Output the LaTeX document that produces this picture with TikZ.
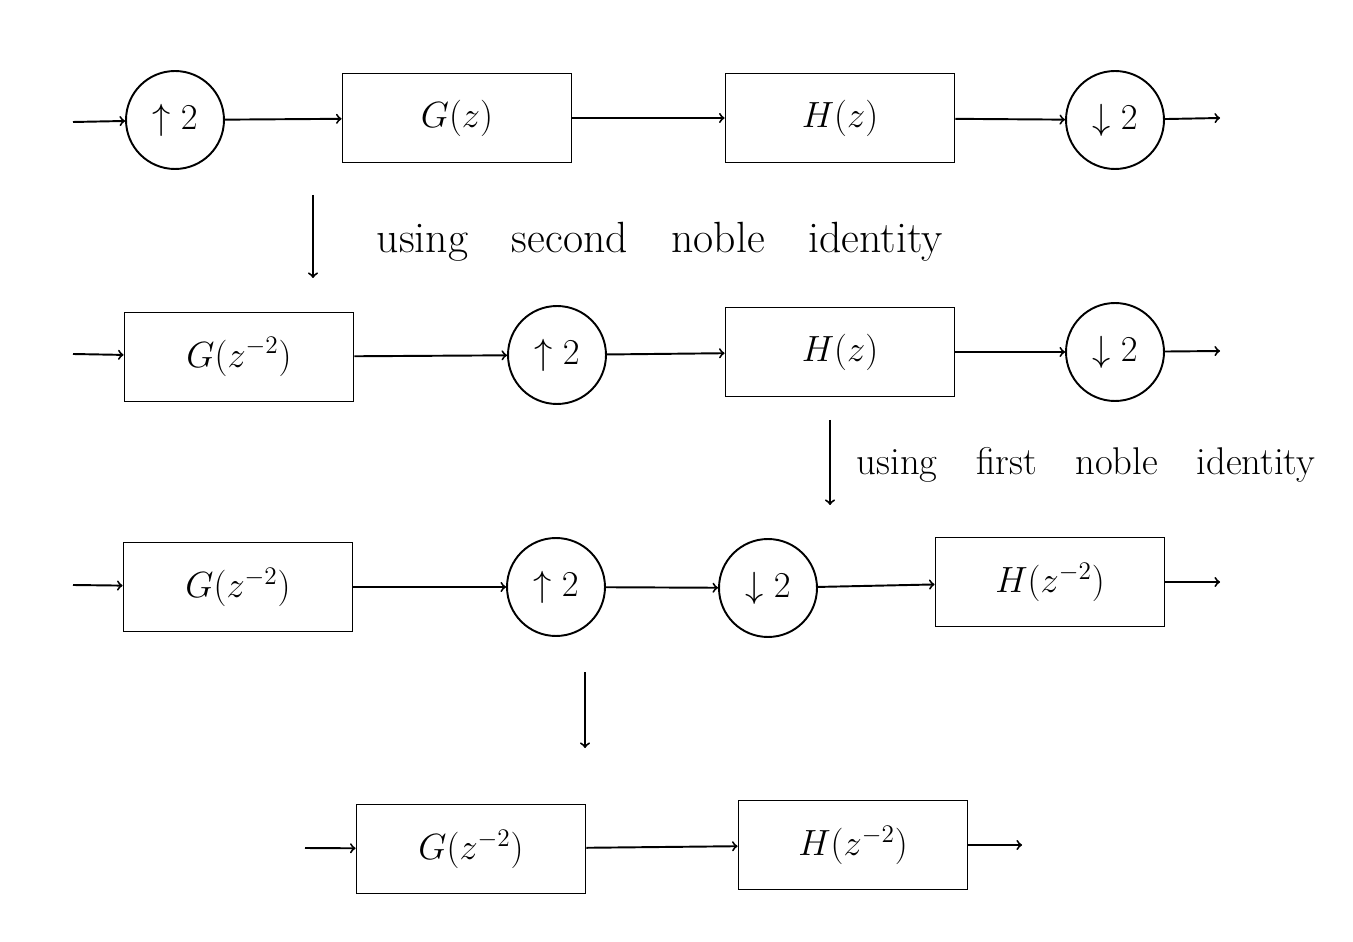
\documentclass[tikz,border=0pt]{standalone}
\usepackage{tikz}
\usetikzlibrary{arrows}
\tikzset{
  sysnode/.style = {align=center, inner sep=0pt, text centered,
    font=\huge},
  block_n/.style = {sysnode, rectangle, draw=black, line width=1.1pt,
    minimum width=4.58cm, minimum height=1.78cm},% filtre
  rate_n/.style = {sysnode, circle, draw=black, line width=1.1pt,
    minimum size=1.96cm},% expandeur / decimateur
  step_t/.style = {font=\Huge, anchor=west},% texte des etapes
}

\begin{document}
\begin{tikzpicture}[->,>=to,line width=1.1pt,x=0.02cm,y=-0.02cm]

\useasboundingbox (0,0) rectangle (1353,942);

% ligne 1
\coordinate (in1) at (73,122);
\node [rate_n] (up1) at (175,120) {$\uparrow 2$};
\node [block_n] (G1) at (457,118) {$G(z)$};
\node [block_n] (H1) at (840,118) {$H(z)$};
\node [rate_n] (dn1) at (1115,120) {$\downarrow 2$};
\coordinate (out1) at (1220,118);
\draw (in1) -- (up1);
\draw (up1) -- (G1);
\draw (G1) -- (H1);
\draw (H1) -- (dn1);
\draw (dn1) -- (out1);

% etape 1
\coordinate (s1a) at (313,195);
\coordinate (s1b) at (313,278);
\draw (s1a) -- (s1b);
\node [step_t] (t1) at (370,242) {using\quad second\quad noble\quad identity};

% ligne 2
\coordinate (in2) at (73,354);
\node [block_n] (G2) at (239,357) {$G(z^{-2})$};
\node [rate_n] (up2) at (557,355) {$\uparrow 2$};
\node [block_n] (H2) at (840,352) {$H(z)$};
\node [rate_n] (dn2) at (1115,352) {$\downarrow 2$};
\coordinate (out2) at (1220,351);
\draw (in2) -- (G2);
\draw (G2) -- (up2);
\draw (up2) -- (H2);
\draw (H2) -- (dn2);
\draw (dn2) -- (out2);

% etape 2
\coordinate (s2a) at (830,420);
\coordinate (s2b) at (830,505);
\draw (s2a) -- (s2b);
\node [step_t, font=\fontsize{22}{26}\selectfont] (t2) at (850,465) {using\quad first\quad noble\quad identity};

% ligne 3
\coordinate (in3) at (73,585);
\node [block_n] (G3) at (238,587) {$G(z^{-2})$};
\node [rate_n] (up3) at (556,587) {$\uparrow 2$};
\node [rate_n] (dn3) at (768,588) {$\downarrow 2$};
\node [block_n] (H3) at (1050,582) {$H(z^{-2})$};
\coordinate (out3) at (1220,582);
\draw (in3) -- (G3);
\draw (G3) -- (up3);
\draw (up3) -- (dn3);
\draw (dn3) -- (H3);
\draw (H3) -- (out3);

% etape 3
\coordinate (s3a) at (585,672);
\coordinate (s3b) at (585,748);
\draw (s3a) -- (s3b);

% ligne 4
\coordinate (in4) at (305,848);
\node [block_n] (G4) at (471,849) {$G(z^{-2})$};
\node [block_n] (H4) at (853,845) {$H(z^{-2})$};
\coordinate (out4) at (1022,845);
\draw (in4) -- (G4);
\draw (G4) -- (H4);
\draw (H4) -- (out4);

\end{tikzpicture}
\end{document}
